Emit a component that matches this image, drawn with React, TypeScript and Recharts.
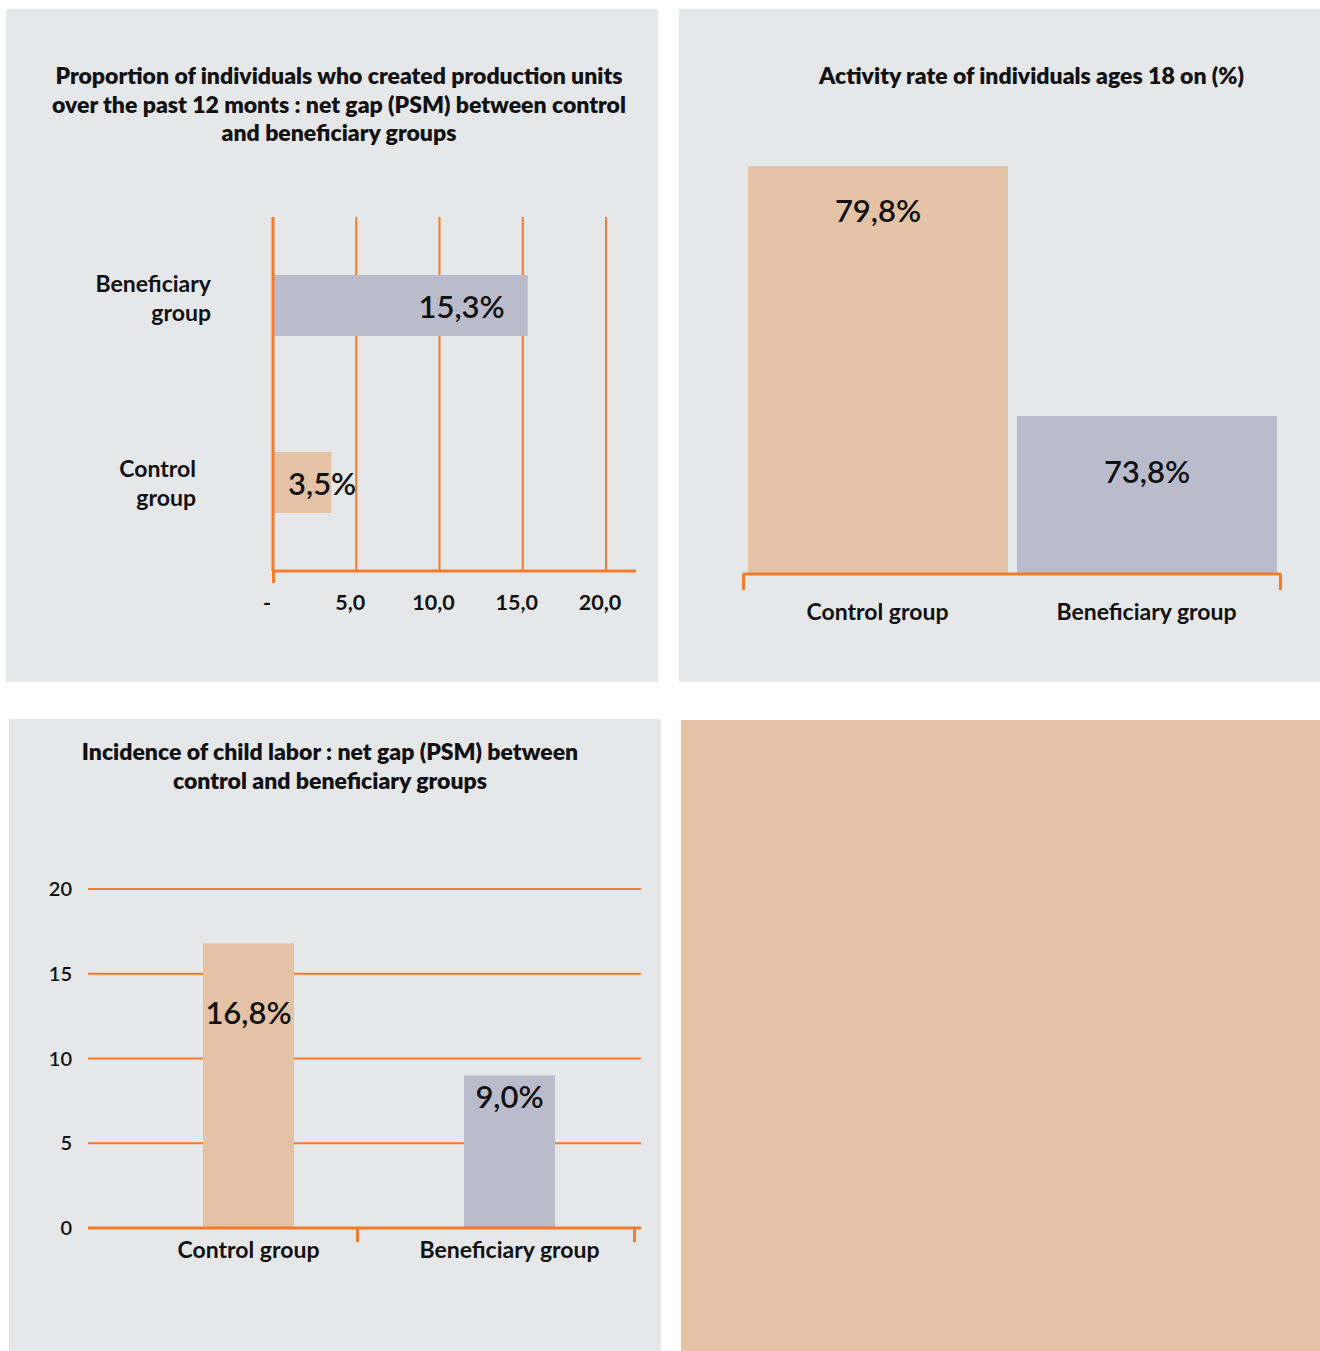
import React from "react";
import { BarChart, Bar, XAxis, YAxis, CartesianGrid, Cell, LabelList } from "recharts";

// chart 1 : production units (horizontal bars)
const unitsGroups = ["Beneficiary group", "Control group"];
const unitsValues = [15.3, 3.5];
const unitsTicks = [0, 5, 10, 15, 20];

// chart 2 : activity rate
const activityGroups = ["Control group", "Beneficiary group"];
const activityValues = [79.8, 73.8];

// chart 3 : child labor
const laborGroups = ["Control group", "Beneficiary group"];
const laborValues = [16.8, 9.0];
const laborTicks = [0, 5, 10, 15, 20];

const ORANGE = "#f47b2b";
const PANEL = "#e6e7e9";
const PEACH = "#e4c2a6";
const GREY_BAR = "#bbbccb";
const FONT = "Lato, 'Noto Sans', sans-serif";
const INK = "#111";

const fmtPct = (v: number) => v.toFixed(1).replace(".", ",") + "%";
const colorFor = (name: string) => (name.startsWith("Control") ? PEACH : GREY_BAR);

const unitsData = unitsGroups.map((g, i) => ({ group: g, value: unitsValues[i] }));
const activityData = activityGroups.map((g, i) => ({ group: g, value: activityValues[i] }));
const laborData = laborGroups.map((g, i) => ({ group: g, value: laborValues[i] }));

const panelStyle = (left: number, top: number, width: number, height: number, bg: string): React.CSSProperties => ({
    position: "absolute",
    left,
    top,
    width,
    height,
    background: bg,
    fontFamily: FONT,
});

const titleStyle = (left: number, top: number, width: number): React.CSSProperties => ({
    position: "absolute",
    left,
    top,
    width,
    textAlign: "center",
    fontSize: 23,
    fontWeight: 800,
    lineHeight: "28.5px",
    color: INK,
    whiteSpace: "nowrap",
});

const orangeTick = (left: number, top: number, h: number): React.CSSProperties => ({
    position: "absolute",
    left,
    top,
    width: 3,
    height: h,
    background: ORANGE,
});

// two line category label for chart 1
const GroupTick = (props: any) => {
    const { x, y, payload, index } = props;
    const words = String(payload.value).split(" ");
    const tx = x - (index === 1 ? 15 : 0);
    return (
        <text x={tx} y={y} textAnchor="end" fontSize={23} fontWeight={700} fill={INK} fontFamily={FONT}>
            {words.map((w, i) => (
                <tspan key={i} x={tx} dy={i === 0 ? (index === 1 ? -6 : -14) : 29}>
                    {w}
                </tspan>
            ))}
        </text>
    );
};

const unitsLabel = (props: any) => {
    const { x, y, width, height, value } = props;
    const big = width > 150;
    return (
        <text
            x={big ? x + width - 23 : x + 15}
            y={y + height / 2}
            textAnchor={big ? "end" : "start"}
            dominantBaseline="central"
            fontSize={31}
            fontWeight={600}
            fill={INK}
            fontFamily={FONT}
        >
            {fmtPct(value)}
        </text>
    );
};

const topLabel = (offsets: number[]) => (props: any) => {
    const { x, y, width, value, index } = props;
    return (
        <text
            x={x + width / 2}
            y={y + offsets[index]}
            textAnchor="middle"
            dominantBaseline="central"
            fontSize={31}
            fontWeight={600}
            fill={INK}
            fontFamily={FONT}
        >
            {fmtPct(value)}
        </text>
    );
};

const axisFont = { fontSize: 21.5, fontWeight: 700, fill: INK, fontFamily: FONT };
const catFont = { fontSize: 23, fontWeight: 700, fill: INK, fontFamily: FONT };

export default function App() {
    return (
        <div style={{ position: "absolute", left: 0, top: 0, width: 1320, height: 1351, background: "#fff" }}>
            {/* panel 1 */}
            <div style={panelStyle(6, 9, 652, 673, PANEL)}>
                <div style={titleStyle(14, 52, 638)}>
                    Proportion of individuals who created production units
                    <br />
                    over the past 12 monts : net gap (PSM) between control
                    <br />
                    and beneficiary groups
                </div>
                <BarChart
                    width={652}
                    height={673}
                    data={unitsData}
                    layout="vertical"
                    barSize={61}
                    margin={{ top: 208, right: 22, bottom: 71, left: 67 }}
                    style={{ position: "absolute", left: 0, top: 0 }}
                >
                    <CartesianGrid horizontal={false} stroke={ORANGE} strokeWidth={2} syncWithTicks />
                    <XAxis
                        type="number"
                        domain={[0, 20]}
                        ticks={unitsTicks}
                        padding={{ left: 0, right: 30 }}
                        height={40}
                        axisLine={{ stroke: ORANGE, strokeWidth: 3 }}
                        tickLine={false}
                        tickSize={0}
                        tickMargin={24}
                        tick={{ ...axisFont, dx: -6 }}
                        tickFormatter={(v: number) => (v === 0 ? "-" : v.toFixed(1).replace(".", ","))}
                    />
                    <YAxis
                        type="category"
                        dataKey="group"
                        width={200}
                        axisLine={{ stroke: ORANGE, strokeWidth: 3 }}
                        tickLine={false}
                        tickSize={0}
                        tickMargin={62}
                        tick={<GroupTick />}
                    />
                    <Bar dataKey="value" isAnimationActive={false}>
                        {unitsData.map((d) => (
                            <Cell key={d.group} fill={colorFor(d.group)} />
                        ))}
                        <LabelList dataKey="value" content={unitsLabel} />
                    </Bar>
                </BarChart>
                <div style={orangeTick(266, 562, 12)} />
            </div>

            {/* panel 2 */}
            <div style={panelStyle(679, 9, 641, 673, PANEL)}>
                <div style={titleStyle(32, 52, 641)}>Activity rate of individuals ages 18 on (%)</div>
                <BarChart
                    width={641}
                    height={673}
                    data={activityData}
                    barSize={260}
                    margin={{ top: 149, right: 39, bottom: 58, left: 64 }}
                    style={{ position: "absolute", left: 0, top: 0 }}
                >
                    <XAxis
                        dataKey="group"
                        height={50}
                        axisLine={{ stroke: ORANGE, strokeWidth: 3 }}
                        tickLine={false}
                        tickSize={0}
                        tickMargin={30}
                        tick={catFont}
                    />
                    <YAxis hide domain={[70, 80]} allowDataOverflow />
                    <Bar dataKey="value" isAnimationActive={false}>
                        {activityData.map((d) => (
                            <Cell key={d.group} fill={colorFor(d.group)} />
                        ))}
                        <LabelList dataKey="value" content={topLabel([44, 55])} />
                    </Bar>
                </BarChart>
                <div style={orangeTick(63, 565, 16)} />
                <div style={orangeTick(600, 565, 16)} />
            </div>

            {/* panel 3 */}
            <div style={panelStyle(9, 719, 652, 632, PANEL)}>
                <div style={titleStyle(0, 18, 642)}>
                    Incidence of child labor : net gap (PSM) between
                    <br />
                    control and beneficiary groups
                </div>
                <BarChart
                    width={652}
                    height={632}
                    data={laborData}
                    barSize={91}
                    margin={{ top: 170, right: 20, bottom: 83, left: 0 }}
                    style={{ position: "absolute", left: 0, top: 0 }}
                >
                    <CartesianGrid vertical={false} stroke={ORANGE} strokeWidth={2} />
                    <XAxis
                        dataKey="group"
                        height={40}
                        padding={{ left: 30, right: 1 }}
                        axisLine={{ stroke: ORANGE, strokeWidth: 3 }}
                        tickLine={false}
                        tickSize={0}
                        tickMargin={14}
                        tick={catFont}
                    />
                    <YAxis
                        domain={[0, 20]}
                        ticks={laborTicks}
                        width={79}
                        axisLine={false}
                        tickLine={false}
                        tickSize={0}
                        tickMargin={16}
                        tick={{ ...axisFont, fontSize: 20, fontWeight: 600 }}
                    />
                    <Bar dataKey="value" isAnimationActive={false}>
                        {laborData.map((d) => (
                            <Cell key={d.group} fill={colorFor(d.group)} />
                        ))}
                        <LabelList dataKey="value" content={topLabel([69, 21])} />
                    </Bar>
                </BarChart>
                <div style={orangeTick(347, 510, 13)} />
                <div style={orangeTick(624, 510, 13)} />
            </div>

            {/* panel 4 */}
            <div style={panelStyle(681, 720, 639, 631, PEACH)} />
        </div>
    );
}
